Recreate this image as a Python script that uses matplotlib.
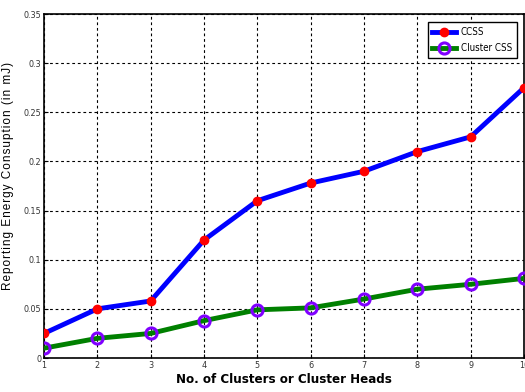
import matplotlib
matplotlib.use("Agg")
import matplotlib.pyplot as plt
from matplotlib import font_manager

names = {f.name for f in font_manager.fontManager.ttflist}
narrow = "Liberation Sans Narrow" if "Liberation Sans Narrow" in names else "DejaVu Sans"

x = [1, 2, 3, 4, 5, 6, 7, 8, 9, 10]
ccss = [0.025, 0.050, 0.058, 0.120, 0.160, 0.178, 0.190, 0.210, 0.225, 0.275]
cluster_css = [0.010, 0.020, 0.025, 0.038, 0.049, 0.051, 0.060, 0.070, 0.075, 0.081]
yticks = [0, 0.05, 0.1, 0.15, 0.2, 0.25, 0.3, 0.35]
yticklabels = ["0", "0.05", "0.1", "0.15", "0.2", "0.25", "0.3", "0.35"]

fig = plt.figure(figsize=(5.25, 3.92), dpi=100)
ax = fig.add_axes([44/525, 1-358/392, (524-44)/525, (358-14)/392])

ax.plot(x, ccss, color="#0000ff", lw=3.5, marker="o", ms=6, mfc="#ff0000", mec="#ff0000",
        label="CCSS", zorder=3)
ax.plot(x, cluster_css, color="#008000", lw=3.5, marker="o", ms=8, mfc="none", mec="#8000ff",
        mew=2.2, label="Cluster CSS", zorder=3)

ax.set_xlim(1, 10)
ax.set_ylim(0, 0.35)
ax.set_xticks(x)
ax.set_yticks(yticks)
ax.set_yticklabels(yticklabels)
ax.grid(True, color="black", linestyle=(0, (2.5, 2.5)), lw=0.8)
for s in ax.spines.values():
    s.set_linewidth(1.2)
ax.tick_params(direction="in", length=3, labelsize=6.5, pad=2)
for lab in ax.get_xticklabels() + ax.get_yticklabels():
    lab.set_family(narrow)
    lab.set_stretch("condensed")
    lab.set_color("#333333")

ax.set_xlabel("No. of Clusters or Cluster Heads", fontsize=9.5, family=narrow,
              stretch="condensed", fontweight="bold", labelpad=2)
ylab = "\u200a".join("Reporting Energy Consuption (in mJ)")
ax.set_ylabel(ylab, fontsize=8.5, family=["Liberation Sans", "DejaVu Sans"])
ax.yaxis.set_label_coords(-0.062, 0.53)

leg = ax.legend(loc="upper right", frameon=True, fancybox=False,
                edgecolor="black", framealpha=1, handlelength=2.4, borderpad=0.5,
                handletextpad=0.5, labelspacing=0.6,
                bbox_to_anchor=(0.995, 0.99), prop={"family": narrow, "stretch": "condensed", "size": 7})
leg.get_frame().set_linewidth(1.0)

fig.savefig("out.png", dpi=100)
